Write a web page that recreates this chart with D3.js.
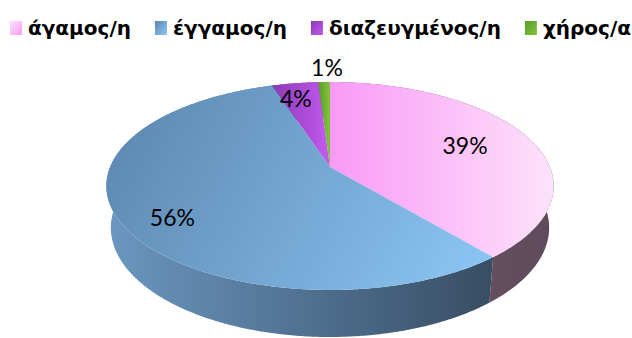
<!DOCTYPE html>
<html>
<head>
<meta charset="utf-8">
<script src="https://cdn.jsdelivr.net/npm/d3@7"></script>
<style>
  body { margin: 0; background: #fff; }
  svg { display: block; }
  .legend text { font-family: "DejaVu Sans", sans-serif; font-weight: bold; font-size: 20px; fill: #000; }
  .label { font-family: Lato, "Open Sans", sans-serif; font-size: 23px; fill: #000; }
</style>
</head>
<body>
<svg width="632" height="338"></svg>
<script>
const categories = ["άγαμος/η", "έγγαμος/η", "διαζευγμένος/η", "χήρος/α"];
const values = [39, 56, 4, 1];
const labels = ["39%", "56%", "4%", "1%"];

// colours: top face [dark, light], side wall [light, dark]
const topColors = [["#f99af6", "#fde2fb"], ["#5a85ad", "#8dc7f6"], ["#8a3ab6", "#c45af0"], ["#5b9b2e", "#80c63c"]];
const wallColors = [["#715869", "#5f4b5b"], ["#6b97c1", "#384d63"], ["#6a2d8a", "#7b3aa0"], ["#3f6e20", "#4d8427"]];
// label placement: radius factor and angle nudge (deg)
const labelPlace = [[0.68, 0], [0.8, -6], [0.8, -2], [1.22, 1]];

const svg = d3.select("svg");
const defs = svg.append("defs");

// simple perspective of a tilted disk
const cam = { cx: 330, cy: 167, f: 1071, D: 4.87, tilt: Math.asin(0.457), thick: 0.214 };
const sinT = Math.sin(cam.tilt), cosT = Math.cos(cam.tilt);
function project(theta, r, h) {
	const x = r * Math.sin(theta), z = r * Math.cos(theta);
	const up = z * sinT + h * cosT;
	const depth = cam.D + z * cosT - h * sinT;
	return [cam.cx + cam.f * x / depth, cam.cy - cam.f * up / depth];
}
function arcPoints(a0, a1, h) {
	const n = Math.max(2, Math.ceil((a1 - a0) / 0.01));
	return d3.range(n + 1).map(i => project(a0 + (a1 - a0) * i / n, 1, h));
}

const pie = d3.pie().sort(null).value(d => d)(values);
const line = d3.line();

// gradients
pie.forEach((d, i) => {
	const a = arcPoints(d.startAngle, d.endAngle, 0);
	const xs = a.map(p => p[0]).concat([cam.cx]);
	const ys = a.map(p => p[1]).concat([cam.cy]);
	const g = defs.append("linearGradient").attr("id", "top" + i)
		.attr("gradientUnits", "userSpaceOnUse")
		.attr("x1", d3.min(xs)).attr("y1", i === 1 ? d3.min(ys) : cam.cy)
		.attr("x2", d3.max(xs)).attr("y2", i === 1 ? d3.max(ys) : cam.cy);
	g.append("stop").attr("offset", 0).attr("stop-color", topColors[i][0]);
	g.append("stop").attr("offset", 1).attr("stop-color", topColors[i][1]);

	const w = defs.append("linearGradient").attr("id", "wall" + i)
		.attr("gradientUnits", "userSpaceOnUse")
		.attr("x1", d3.min(xs)).attr("y1", 0).attr("x2", d3.max(xs)).attr("y2", 0);
	w.append("stop").attr("offset", 0).attr("stop-color", wallColors[i][0]);
	w.append("stop").attr("offset", 1).attr("stop-color", wallColors[i][1]);
});

// side walls, far ones first
const walls = pie.map((d, i) => ({ d, i }))
	.sort((a, b) => Math.cos((b.d.startAngle + b.d.endAngle) / 2) - Math.cos((a.d.startAngle + a.d.endAngle) / 2));
svg.append("g").selectAll("path")
	.data(walls)
	.join("path")
	.attr("d", w => {
		const top = arcPoints(w.d.startAngle, w.d.endAngle, 0);
		const bot = arcPoints(w.d.startAngle, w.d.endAngle, -cam.thick).reverse();
		return line(top.concat(bot)) + "Z";
	})
	.attr("fill", w => `url(#wall${w.i})`);

// top faces
svg.append("g").selectAll("path")
	.data(pie)
	.join("path")
	.attr("d", d => line([[cam.cx, cam.cy]].concat(arcPoints(d.startAngle, d.endAngle, 0))) + "Z")
	.attr("fill", (d, i) => `url(#top${i})`);

// data labels
svg.append("g").selectAll("text")
	.data(pie)
	.join("text")
	.attr("class", "label")
	.attr("text-anchor", "middle")
	.attr("dominant-baseline", "central")
	.attr("transform", (d, i) => {
		const mid = (d.startAngle + d.endAngle) / 2 + labelPlace[i][1] * Math.PI / 180;
		const p = project(mid, labelPlace[i][0], 0);
		return `translate(${p[0]},${p[1]})`;
	})
	.text((d, i) => labels[i]);

// legend
const legend = svg.append("g").attr("class", "legend");
const items = legend.selectAll("g").data(categories).join("g");
items.append("rect")
	.attr("width", 12).attr("height", 14).attr("y", 21)
	.attr("fill", (d, i) => `url(#lg${i})`);
categories.forEach((c, i) => {
	const g = defs.append("linearGradient").attr("id", "lg" + i)
		.attr("x1", 0).attr("y1", 0).attr("x2", 1).attr("y2", 1);
	g.append("stop").attr("offset", 0).attr("stop-color", i === 0 ? topColors[0][1] : topColors[i][0]);
	g.append("stop").attr("offset", 1).attr("stop-color", i === 0 ? topColors[0][0] : topColors[i][1]);
});
items.append("text").attr("x", 18).attr("y", 35).text(d => d);
const widths = items.nodes().map(n => n.getBBox().width);
const gap = (631 - 10 - d3.sum(widths)) / (categories.length - 1);
let x = 10;
items.attr("transform", (d, i) => {
	const t = `translate(${x},0)`;
	x += widths[i] + gap;
	return t;
});
</script>
</body>
</html>
